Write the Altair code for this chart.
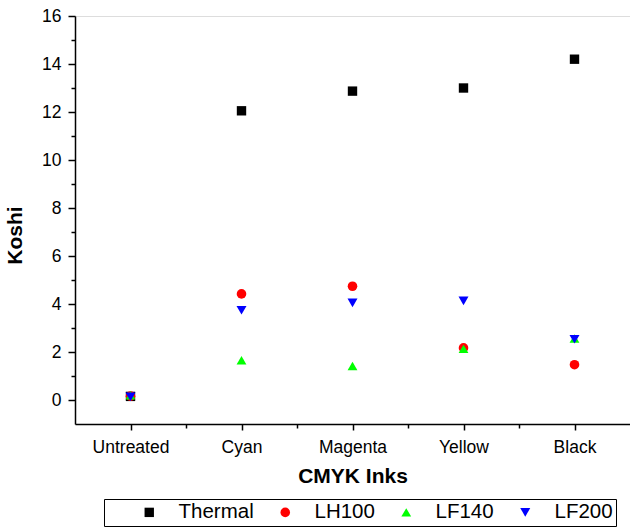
import altair as alt
import pandas as pd

categories = ["Untreated", "Cyan", "Magenta", "Yellow", "Black"]
series = ["Thermal", "LH100", "LF140", "LF200"]
thermal = [0.15, 12.05, 12.87, 13.0, 14.2]
lh100 = [0.16, 4.42, 4.74, 2.17, 1.47]
lf140 = [0.20, 1.66, 1.42, 2.13, 2.56]
lf200 = [0.13, 3.74, 4.05, 4.13, 2.53]
colors = ["#000000", "#ff0000", "#00ff00", "#0000ff"]
shapes = ["square", "circle", "triangle-up", "triangle-down"]
sizes = [88, 100, 125, 125]

rows = []
for name, vals in zip(series, [thermal, lh100, lf140, lf200]):
    for i, v in enumerate(vals):
        rows.append({"pos": i + 1, "ink": categories[i], "series": name, "koshi": v})
df = pd.DataFrame(rows)

cat_js = "[" + ",".join("'" + c + "'" for c in categories) + "]"
FONT = "Liberation Sans"

x_axis = alt.Axis(
    values=[1, 1.5, 2, 2.5, 3, 3.5, 4, 4.5, 5],
    labelExpr=f"datum.value % 1 === 0 ? {cat_js}[datum.value - 1] : ''",
    grid=False,
    domainColor="black", domainWidth=1.5,
    tickColor="black", tickWidth=1.5,
    tickSize={"condition": {"test": "datum.value % 1 === 0", "value": 6}, "value": 4},
    labelFont=FONT, labelFontSize=17.5, labelColor="black", labelPadding=8,
    title="CMYK Inks", titleFont=FONT, titleFontSize=21, titleFontWeight="bold",
    titleColor="black", titlePadding=10,
)
y_axis = alt.Axis(
    values=list(range(0, 17)),
    labelExpr="datum.value % 2 === 0 ? datum.label : ''",
    grid=False,
    domainColor="black", domainWidth=1.5,
    tickColor="black", tickWidth=1.5,
    tickSize={"condition": {"test": "datum.value % 2 === 0", "value": 7}, "value": 4},
    labelFont=FONT, labelFontSize=17.5, labelColor="black", labelPadding=7,
    title="Koshi", titleFont=FONT, titleFontSize=21, titleFontWeight="bold",
    titleColor="black", titleX=-50, titleY=219,
)

legend = alt.Legend(
    orient="none", legendX=29, legendY=483, direction="horizontal",
    title="\u00a0", titleOrient="left", titlePadding=32,
    titleFontSize=20, titleFont=FONT,
    strokeColor="black", padding=3, fillColor="white",
    labelFont=FONT, labelFontSize=20.5, labelColor="black",
    labelExpr="datum.value == 'LF200' ? datum.value + '\u2002' : datum.value",
    symbolStrokeWidth=0, labelOffset=19, columnPadding=21,
)

chart = alt.Chart(df).mark_point(filled=True, opacity=1).encode(
    x=alt.X("pos:Q", scale=alt.Scale(domain=[0.5, 5.5], nice=False, zero=False), axis=x_axis),
    y=alt.Y("koshi:Q", scale=alt.Scale(domain=[-1, 16], nice=False, zero=False), axis=y_axis),
    color=alt.Color("series:N", scale=alt.Scale(domain=series, range=colors), sort=series, legend=legend),
    shape=alt.Shape("series:N", scale=alt.Scale(domain=series, range=shapes), sort=series, legend=legend),
    size=alt.Size("series:N", scale=alt.Scale(domain=series, range=sizes), sort=series, legend=legend),
).properties(
    width=555, height=408,
    autosize=alt.AutoSizeParams(type="none"),
    padding={"left": 75, "top": 16, "right": 0, "bottom": 103},
).configure_view(stroke=None).configure(background="white")

chart.save("out.html", embed_options={"renderer": "svg", "actions": False})
